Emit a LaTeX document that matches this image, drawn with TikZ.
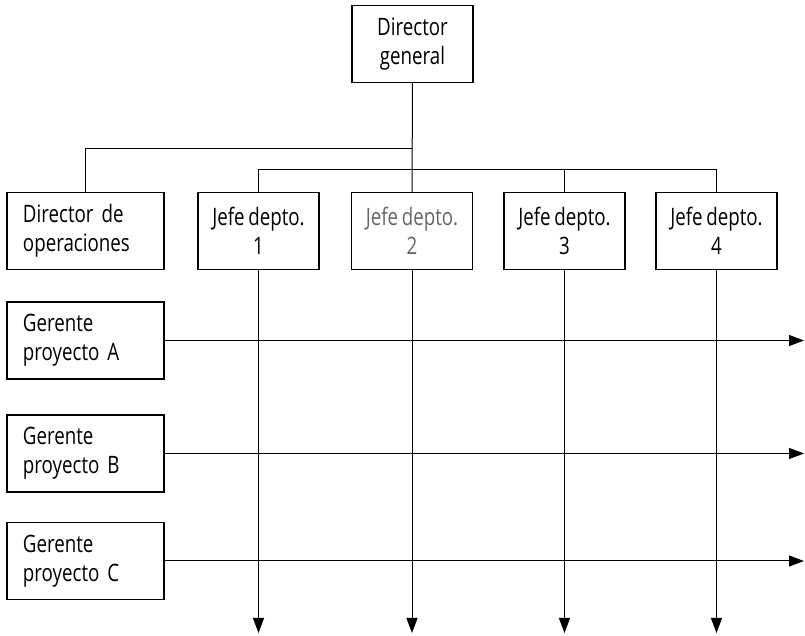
\documentclass[tikz,border=0pt]{standalone}
\usepackage{fontspec}
\setmainfont[FakeStretch=0.78, WordSpace=0.75]{Open Sans}
\usetikzlibrary{arrows.meta}

\tikzset{
  caja/.style={draw, line width=0.7pt, minimum width=60.5pt, minimum height=38.5pt,
    align=center, inner sep=2pt, font=\fontsize{12}{14.5}\selectfont},
  cajaizq/.style={caja, minimum width=78.5pt, text width=62.5pt, inner xsep=8pt, align=left},
  linea/.style={line width=0.5pt},
  flecha/.style={linea, -{Triangle[length=7.5pt,width=5.5pt]}}
}

\begin{document}
\begin{tikzpicture}[x=0.5pt, y=-0.5pt]
  \useasboundingbox (0,0) rectangle (805,636);

  % cajas
  \node[caja] (dg) at (412.5,44) {Director\\general};
  \node[cajaizq] (dop) at (85.5,231) {Director de\\operaciones};
  \node[caja] (j1) at (258.5,231) {Jefe depto.\\1};
  \node[caja, text=black!60] (j2) at (412,231) {Jefe depto.\\2};
  \node[caja] (j3) at (564.5,231) {Jefe depto.\\3};
  \node[caja] (j4) at (716.5,231) {Jefe depto.\\4};
  \node[cajaizq] (ga) at (85.5,340.5) {Gerente\\proyecto A};
  \node[cajaizq] (gb) at (85.5,453.5) {Gerente\\proyecto B};
  \node[cajaizq] (gc) at (85.5,561) {Gerente\\proyecto C};

  \coordinate (b1) at (412,149);
  \coordinate (b2) at (412,170);
  \coordinate (fin) at (0,633);
  \coordinate (der) at (804,0);

  % lineas de mando
  \draw[linea] (dg) -- (j2);
  \draw[linea] (dop.north) |- (b1);
  \draw[linea] (j1.north) |- (j4.north |- b2) -- (j4.north);
  \draw[linea] (j3.north) -- (j3.north |- b2);

  % flechas
  \draw[flecha] (j1) -- (j1 |- fin);
  \draw[flecha] (j2) -- (j2 |- fin);
  \draw[flecha] (j3) -- (j3 |- fin);
  \draw[flecha] (j4) -- (j4 |- fin);
  \draw[flecha] (ga) -- (ga -| der);
  \draw[flecha] (gb) -- (gb -| der);
  \draw[flecha] (gc) -- (gc -| der);
\end{tikzpicture}
\end{document}
